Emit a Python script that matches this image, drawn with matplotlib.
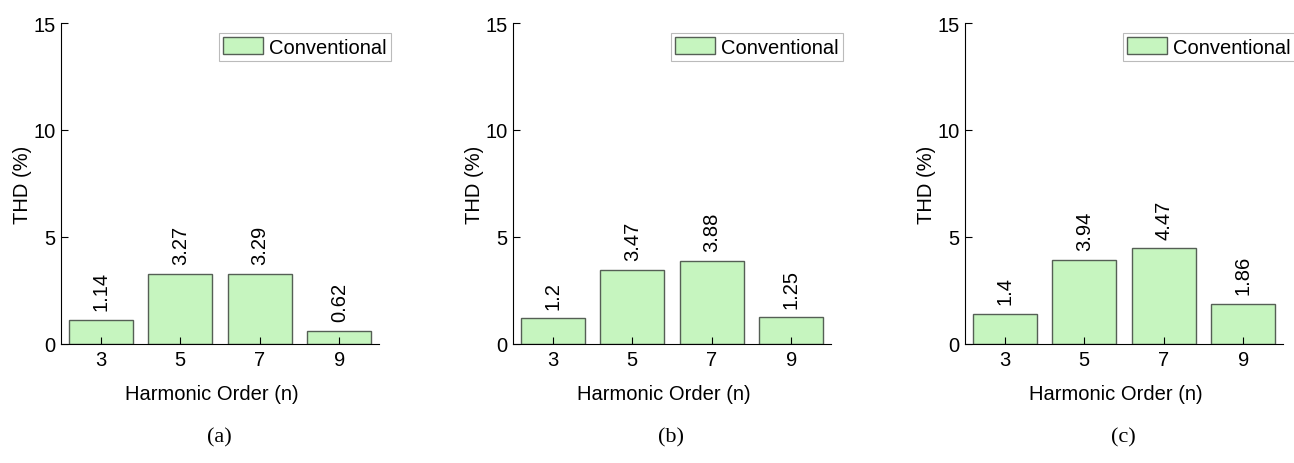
import matplotlib
matplotlib.use("Agg")
import matplotlib.pyplot as plt

plt.rcParams['font.family'] = ['Liberation Sans', 'DejaVu Sans']

orders = [3, 5, 7, 9]
thd_a = [1.14, 3.27, 3.29, 0.62]
thd_b = [1.2, 3.47, 3.88, 1.25]
thd_c = [1.4, 3.94, 4.47, 1.86]
captions = ["(a)", "(b)", "(c)"]

face = '#c6f5bf'
edge = '#555f55'
fs = 14.5

fig = plt.figure(figsize=(12.94, 4.64), dpi=100)
lefts = [61, 513, 965]

for left, thd, cap in zip(lefts, [thd_a, thd_b, thd_c], captions):
    ax = fig.add_axes([left / 1294, 119 / 464, 318 / 1294, 321 / 464])
    ax.bar(orders, thd, width=1.6, color=face, edgecolor=edge, linewidth=1.0,
           label="Conventional")
    for x, v in zip(orders, thd):
        ax.annotate(f"{v:g}", (x, v), xytext=(0, 7), textcoords='offset points',
                    rotation=90, ha='center', va='bottom', fontsize=fs)
    ax.set_xlim(2, 10)
    ax.set_ylim(0, 15)
    ax.set_xticks(orders)
    ax.set_yticks([0, 5, 10, 15])
    ax.tick_params(direction='in', length=5, labelsize=fs, width=0.8, pad=4)
    ax.spines['top'].set_visible(False)
    ax.spines['right'].set_visible(False)
    ax.set_xlabel("Harmonic Order (n)", fontsize=fs, labelpad=11)
    ax.xaxis.label.set_x(0.473)
    ax.set_ylabel("THD (%)", fontsize=fs, labelpad=0.5)
    leg = ax.legend(loc='upper right', bbox_to_anchor=(1.038, 0.969), borderaxespad=0,
                    fontsize=fs, fancybox=False, handlelength=2.0, handleheight=0.95,
                    borderpad=0.2, handletextpad=0.3)
    leg.get_frame().set_edgecolor('#aaaaaa')
    leg.get_frame().set_linewidth(0.8)
    fig.text((left + 158) / 1294, 1 - 438 / 464, cap, ha='center', va='center',
             fontsize=16, family=['Liberation Serif', 'DejaVu Serif'])

fig.savefig("out.png", dpi=100)
